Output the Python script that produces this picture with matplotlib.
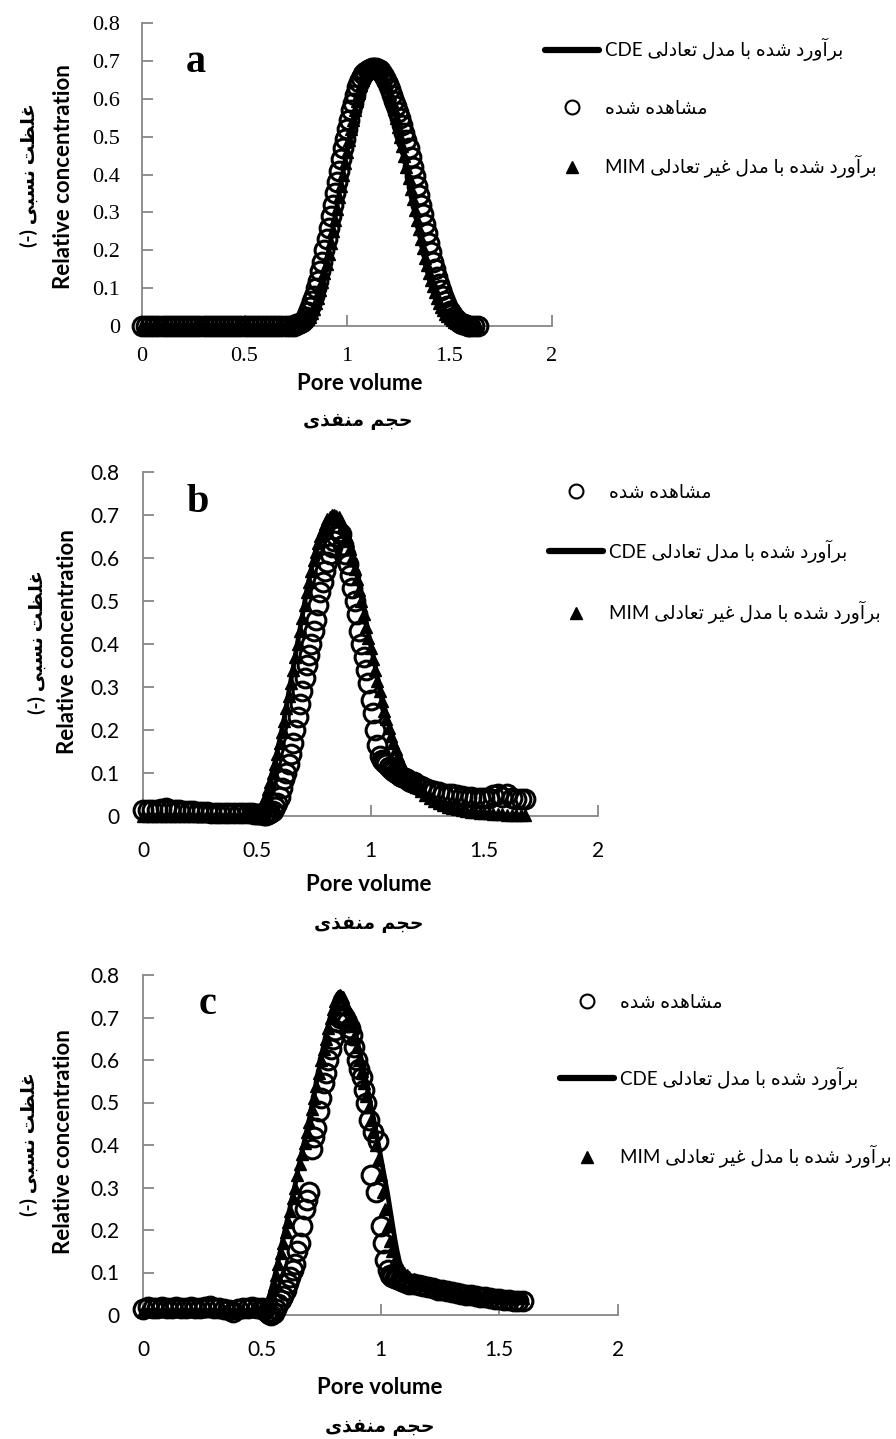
import matplotlib
matplotlib.use('Agg')
import matplotlib.pyplot as plt
from matplotlib.font_manager import FontProperties
from matplotlib.lines import Line2D

# ---------------- data ----------------
x_ticks = [0, 0.5, 1, 1.5, 2]
x_tick_labels = ['0', '0.5', '1', '1.5', '2']
y_ticks = [0, 0.1, 0.2, 0.3, 0.4, 0.5, 0.6, 0.7, 0.8]
y_tick_labels = ['0', '0.1', '0.2', '0.3', '0.4', '0.5', '0.6', '0.7', '0.8']
panel_letters = ['a', 'b', 'c']

# ---- panel a ----
pv_a = [0.00, 0.02, 0.04, 0.06, 0.08, 0.10, 0.12, 0.14, 0.16, 0.18, 0.20, 0.22, 0.24, 0.26, 0.28,
        0.30, 0.32, 0.34, 0.36, 0.38, 0.40, 0.42, 0.44, 0.46, 0.48, 0.50, 0.52, 0.54, 0.56, 0.58,
        0.60, 0.62, 0.64, 0.66, 0.68, 0.70, 0.72, 0.74,
        0.75, 0.76, 0.77, 0.78, 0.79, 0.80, 0.81, 0.82, 0.83, 0.84,
        0.85, 0.86, 0.87, 0.88, 0.89, 0.90, 0.91, 0.92, 0.93, 0.94,
        0.95, 0.96, 0.97, 0.98, 0.99, 1.00, 1.01, 1.02, 1.03, 1.04,
        1.05, 1.06, 1.07, 1.08, 1.09, 1.10, 1.11, 1.12, 1.13, 1.14,
        1.15, 1.16, 1.17, 1.18, 1.19, 1.20, 1.21, 1.22, 1.23, 1.24,
        1.25, 1.26, 1.27, 1.28, 1.29, 1.30, 1.31, 1.32, 1.33, 1.34,
        1.35, 1.36, 1.37, 1.38, 1.39, 1.40, 1.41, 1.42, 1.43, 1.44,
        1.45, 1.46, 1.47, 1.48, 1.49, 1.50, 1.51, 1.52, 1.53, 1.54,
        1.55, 1.56, 1.57, 1.58, 1.59, 1.60, 1.62, 1.64]
obs_a = [0, 0, 0, 0, 0, 0, 0, 0, 0, 0, 0, 0, 0, 0, 0,
         0, 0, 0, 0, 0, 0, 0, 0, 0, 0, 0, 0, 0, 0, 0,
         0, 0, 0, 0, 0, 0, 0, 0,
         0.004, 0.005, 0.008, 0.01, 0.017, 0.025, 0.037, 0.05, 0.065, 0.08,
         0.10, 0.12, 0.145, 0.17, 0.20, 0.23, 0.26, 0.29, 0.32, 0.35,
         0.38, 0.41, 0.44, 0.47, 0.495, 0.52, 0.545, 0.57, 0.59, 0.61,
         0.63, 0.645, 0.655, 0.665, 0.67, 0.675, 0.678, 0.68, 0.68, 0.68,
         0.678, 0.675, 0.668, 0.66, 0.65, 0.64, 0.625, 0.61, 0.595, 0.58,
         0.565, 0.55, 0.53, 0.51, 0.49, 0.47, 0.445, 0.42, 0.395, 0.37,
         0.345, 0.32, 0.295, 0.27, 0.245, 0.22, 0.195, 0.17, 0.15, 0.13,
         0.112, 0.095, 0.08, 0.065, 0.052, 0.04, 0.032, 0.025, 0.018, 0.012,
         0.009, 0.006, 0.004, 0.002, 0.001, 0, 0, 0]
mim_a = [0, 0, 0, 0, 0, 0, 0, 0, 0, 0, 0, 0, 0, 0, 0,
         0, 0, 0, 0, 0, 0, 0, 0, 0, 0, 0, 0, 0, 0, 0,
         0, 0, 0, 0, 0, 0, 0, 0,
         0.001, 0.002, 0.003, 0.005, 0.008, 0.012, 0.018, 0.025, 0.034, 0.045,
         0.06, 0.075, 0.095, 0.115, 0.14, 0.165, 0.19, 0.22, 0.25, 0.28,
         0.31, 0.34, 0.37, 0.40, 0.43, 0.46, 0.49, 0.52, 0.545, 0.57,
         0.595, 0.615, 0.635, 0.65, 0.662, 0.67, 0.676, 0.68, 0.681, 0.68,
         0.678, 0.675, 0.666, 0.655, 0.643, 0.63, 0.613, 0.595, 0.573, 0.55,
         0.525, 0.50, 0.475, 0.45, 0.42, 0.39, 0.362, 0.335, 0.307, 0.28,
         0.255, 0.23, 0.205, 0.18, 0.16, 0.14, 0.122, 0.105, 0.09, 0.075,
         0.062, 0.05, 0.041, 0.032, 0.026, 0.02, 0.015, 0.011, 0.008, 0.006,
         0.004, 0.003, 0.002, 0.001, 0.001, 0, 0, 0]
cde_a = [0, 0, 0, 0, 0, 0, 0, 0, 0, 0, 0, 0, 0, 0, 0,
         0, 0, 0, 0, 0, 0, 0, 0, 0, 0, 0, 0, 0, 0, 0,
         0, 0, 0, 0, 0, 0, 0, 0.001,
         0.002, 0.003, 0.005, 0.007, 0.011, 0.015, 0.022, 0.03, 0.04, 0.05,
         0.065, 0.08, 0.10, 0.12, 0.145, 0.17, 0.197, 0.225, 0.255, 0.285,
         0.315, 0.345, 0.375, 0.405, 0.435, 0.465, 0.493, 0.52, 0.545, 0.57,
         0.59, 0.61, 0.628, 0.645, 0.657, 0.665, 0.671, 0.675, 0.678, 0.68,
         0.678, 0.675, 0.668, 0.66, 0.648, 0.635, 0.618, 0.60, 0.578, 0.555,
         0.533, 0.51, 0.483, 0.455, 0.428, 0.40, 0.372, 0.345, 0.317, 0.29,
         0.265, 0.24, 0.215, 0.19, 0.17, 0.15, 0.13, 0.11, 0.095, 0.08,
         0.067, 0.055, 0.045, 0.036, 0.029, 0.022, 0.017, 0.013, 0.01, 0.007,
         0.005, 0.004, 0.003, 0.002, 0.001, 0.001, 0, 0]

# ---- panel b ----
pv_b = [0.00, 0.02, 0.04, 0.06, 0.08, 0.10, 0.12, 0.14, 0.16, 0.18, 0.20, 0.22, 0.24, 0.26, 0.28,
        0.30, 0.32, 0.34, 0.36, 0.38, 0.40, 0.42, 0.44, 0.46, 0.48,
        0.49, 0.50, 0.51, 0.52, 0.53, 0.54, 0.55, 0.56, 0.57, 0.58,
        0.59, 0.60, 0.61, 0.62, 0.63, 0.64, 0.65, 0.66, 0.67, 0.68,
        0.69, 0.70, 0.71, 0.72, 0.73, 0.74, 0.75, 0.76, 0.77, 0.78,
        0.79, 0.80, 0.81, 0.82, 0.83, 0.84, 0.85, 0.86, 0.87, 0.88,
        0.89, 0.90, 0.91, 0.92, 0.93, 0.94, 0.95, 0.96, 0.97, 0.98,
        0.99, 1.00, 1.01, 1.02, 1.03, 1.04, 1.05, 1.06, 1.07, 1.08,
        1.09, 1.10, 1.11, 1.12, 1.13, 1.14, 1.15, 1.16, 1.17, 1.18,
        1.19, 1.20,
        1.22, 1.24, 1.26, 1.28, 1.30, 1.32, 1.34, 1.36, 1.38, 1.40, 1.42, 1.44,
        1.46, 1.48, 1.50, 1.52, 1.54, 1.56, 1.58, 1.60, 1.62, 1.64, 1.66, 1.68]
obs_b = [0.015, 0.015, 0.015, 0.015, 0.016, 0.018, 0.015, 0.014, 0.013, 0.012, 0.012, 0.011, 0.010, 0.010, 0.009,
         0.008, 0.008, 0.008, 0.007, 0.007, 0.007, 0.007, 0.006, 0.006, 0.006,
         0.005, 0.005, 0.004, 0.004, 0.003, 0.003, 0.004, 0.006, 0.012, 0.02,
         0.03, 0.045, 0.065, 0.085, 0.10, 0.12, 0.145, 0.17, 0.20, 0.23,
         0.26, 0.29, 0.32, 0.35, 0.375, 0.40, 0.43, 0.455, 0.49, 0.52,
         0.545, 0.57, 0.59, 0.61, 0.625, 0.64, 0.65, 0.66, 0.655, 0.63,
         0.61, 0.585, 0.56, 0.53, 0.50, 0.47, 0.43, 0.40, 0.37, 0.34,
         0.31, 0.27, 0.24, 0.20, 0.165, 0.14, 0.13, 0.125, 0.12, 0.115,
         0.11, 0.105, 0.10, 0.097, 0.094, 0.09, 0.088, 0.085, 0.082, 0.08,
         0.078, 0.075,
         0.07, 0.065, 0.06, 0.058, 0.055, 0.052, 0.05, 0.05, 0.048, 0.046, 0.045, 0.044,
         0.043, 0.042, 0.042, 0.043, 0.048, 0.05, 0.045, 0.05, 0.042, 0.04, 0.04, 0.04]
mim_b = [0, 0, 0, 0, 0, 0, 0, 0, 0, 0, 0, 0, 0, 0, 0,
         0, 0, 0, 0, 0, 0, 0, 0, 0, 0,
         0.002, 0.005, 0.01, 0.02, 0.032, 0.045, 0.062, 0.08, 0.10, 0.12,
         0.145, 0.17, 0.195, 0.22, 0.25, 0.28, 0.31, 0.34, 0.37, 0.40,
         0.43, 0.46, 0.49, 0.52, 0.545, 0.57, 0.595, 0.615, 0.635, 0.65,
         0.665, 0.68, 0.69, 0.695, 0.70, 0.70, 0.698, 0.695, 0.685, 0.675,
         0.66, 0.64, 0.62, 0.60, 0.575, 0.55, 0.525, 0.50, 0.47, 0.44,
         0.415, 0.39, 0.365, 0.34, 0.315, 0.29, 0.268, 0.245, 0.225, 0.205,
         0.187, 0.17, 0.155, 0.14, 0.127, 0.115, 0.105, 0.095, 0.087, 0.08,
         0.073, 0.067,
         0.057, 0.048, 0.041, 0.035, 0.030, 0.026, 0.022, 0.019, 0.016, 0.014, 0.012, 0.010,
         0.009, 0.008, 0.007, 0.006, 0.005, 0.004, 0.004, 0.003, 0.003, 0.002, 0.002, 0.002]
cde_b = [0, 0, 0, 0, 0, 0, 0, 0, 0, 0, 0, 0, 0, 0, 0,
         0, 0, 0, 0, 0, 0, 0, 0, 0, 0.001,
         0.004, 0.008, 0.014, 0.025, 0.037, 0.05, 0.067, 0.085, 0.105, 0.125,
         0.15, 0.175, 0.20, 0.225, 0.255, 0.285, 0.315, 0.345, 0.375, 0.405,
         0.435, 0.465, 0.495, 0.525, 0.55, 0.575, 0.598, 0.62, 0.638, 0.655,
         0.668, 0.68, 0.69, 0.695, 0.698, 0.70, 0.698, 0.695, 0.686, 0.675,
         0.662, 0.645, 0.625, 0.605, 0.582, 0.56, 0.535, 0.51, 0.483, 0.455,
         0.428, 0.40, 0.375, 0.35, 0.325, 0.30, 0.278, 0.255, 0.235, 0.215,
         0.197, 0.18, 0.165, 0.15, 0.137, 0.125, 0.112, 0.10, 0.092, 0.085,
         0.077, 0.07,
         0.058, 0.048, 0.04, 0.034, 0.028, 0.024, 0.02, 0.017, 0.014, 0.012, 0.010, 0.008,
         0.007, 0.006, 0.005, 0.004, 0.004, 0.003, 0.003, 0.002, 0.002, 0.002, 0.001, 0.001]

# ---- panel c ----
pv_c = [0.00, 0.02, 0.04, 0.06, 0.08, 0.10, 0.12, 0.14, 0.16, 0.18, 0.20, 0.22, 0.24, 0.26, 0.28,
        0.30, 0.32, 0.34, 0.36, 0.38, 0.40, 0.42, 0.44, 0.46, 0.48, 0.50,
        0.51, 0.52, 0.53, 0.54, 0.55, 0.56, 0.57, 0.58, 0.59, 0.60,
        0.61, 0.62, 0.63, 0.64, 0.65, 0.66, 0.67, 0.68, 0.69, 0.70,
        0.71, 0.72, 0.73, 0.74, 0.75, 0.76, 0.77, 0.78, 0.79, 0.80,
        0.81, 0.82, 0.83, 0.84, 0.85, 0.86, 0.87, 0.88, 0.89, 0.90,
        0.91, 0.92, 0.93, 0.94, 0.95, 0.96, 0.97, 0.98, 0.99, 1.00,
        1.01, 1.02, 1.03, 1.04, 1.05, 1.06, 1.07, 1.08, 1.09, 1.10,
        1.11, 1.12,
        1.14, 1.16, 1.18, 1.20, 1.22, 1.24, 1.26, 1.28, 1.30, 1.32, 1.34, 1.36,
        1.38, 1.40, 1.42, 1.44, 1.46, 1.48, 1.50, 1.52, 1.54, 1.56, 1.58, 1.60]
obs_c = [0.015, 0.018, 0.016, 0.017, 0.018, 0.016, 0.017, 0.018, 0.017, 0.016, 0.018, 0.017, 0.016, 0.018, 0.022,
         0.017, 0.016, 0.015, 0.012, 0.008, 0.015, 0.017, 0.016, 0.018, 0.017, 0.016,
         0.012, 0.008, 0.003, 0.0, 0.005, 0.015, 0.025, 0.035, 0.045, 0.06,
         0.075, 0.09, 0.105, 0.12, 0.15, 0.17, 0.21, 0.25, 0.27, 0.29,
         0.39, 0.42, 0.44, 0.48, 0.51, 0.545, 0.57, 0.60, 0.625, 0.65,
         0.67, 0.69, 0.70, 0.705, 0.70, 0.69, 0.675, 0.66, 0.63, 0.60,
         0.58, 0.56, 0.53, 0.50, 0.46, 0.33, 0.43, 0.29, 0.41, 0.21,
         0.17, 0.13, 0.105, 0.095, 0.09, 0.088, 0.085, 0.083, 0.08, 0.078,
         0.076, 0.074,
         0.072, 0.07, 0.068, 0.066, 0.063, 0.06, 0.058, 0.056, 0.054, 0.052, 0.05, 0.048,
         0.046, 0.045, 0.043, 0.042, 0.04, 0.038, 0.037, 0.036, 0.035, 0.034, 0.033, 0.032]
mim_c = [0.01, 0.01, 0.01, 0.01, 0.01, 0.01, 0.01, 0.01, 0.01, 0.01, 0.01, 0.01, 0.01, 0.01, 0.01,
         0.01, 0.01, 0.01, 0.01, 0.01, 0.01, 0.01, 0.01, 0.01, 0.01, 0.01,
         0.012, 0.02, 0.03, 0.05, 0.07, 0.095, 0.12, 0.145, 0.17, 0.195,
         0.22, 0.245, 0.275, 0.30, 0.33, 0.355, 0.38, 0.405, 0.43, 0.455,
         0.485, 0.51, 0.54, 0.57, 0.60, 0.625, 0.65, 0.675, 0.70, 0.72,
         0.74, 0.75, 0.752, 0.748, 0.735, 0.72, 0.70, 0.68, 0.655, 0.63,
         0.60, 0.575, 0.545, 0.515, 0.49, 0.46, 0.43, 0.40, 0.365, 0.33,
         0.29, 0.25, 0.21, 0.175, 0.15, 0.13, 0.12, 0.11, 0.105, 0.10,
         0.095, 0.09,
         0.085, 0.08, 0.075, 0.07, 0.067, 0.064, 0.061, 0.058, 0.055, 0.053, 0.051, 0.049,
         0.047, 0.046, 0.045, 0.044, 0.043, 0.042, 0.042, 0.041, 0.041, 0.04, 0.04, 0.04]
cde_c = [0.01, 0.01, 0.01, 0.01, 0.01, 0.01, 0.01, 0.01, 0.01, 0.01, 0.01, 0.01, 0.01, 0.01, 0.01,
         0.01, 0.01, 0.01, 0.01, 0.01, 0.01, 0.01, 0.01, 0.01, 0.01, 0.01,
         0.015, 0.025, 0.04, 0.06, 0.08, 0.105, 0.13, 0.155, 0.18, 0.205,
         0.23, 0.255, 0.28, 0.305, 0.335, 0.36, 0.385, 0.41, 0.435, 0.46,
         0.49, 0.515, 0.545, 0.575, 0.605, 0.63, 0.655, 0.68, 0.705, 0.725,
         0.745, 0.755, 0.76, 0.755, 0.745, 0.73, 0.715, 0.695, 0.675, 0.65,
         0.625, 0.60, 0.575, 0.55, 0.52, 0.49, 0.465, 0.435, 0.405, 0.375,
         0.345, 0.315, 0.285, 0.25, 0.215, 0.18, 0.15, 0.125, 0.11, 0.10,
         0.093, 0.088,
         0.085, 0.08, 0.075, 0.07, 0.067, 0.064, 0.061, 0.058, 0.055, 0.053, 0.051, 0.049,
         0.047, 0.046, 0.045, 0.044, 0.043, 0.042, 0.042, 0.041, 0.041, 0.04, 0.04, 0.04]

# text
cde_fa = 'برآورد شده با مدل تعادلی'
obs_fa = 'مشاهده شده'
mim_fa = 'برآورد شده با مدل غیر تعادلی'
ylabel_fa = 'غلظت نسبی'
xlabel_fa = 'حجم منفذی'
ylabel_en = 'Relative concentration'
xlabel_en = 'Pore volume'

# ---------------- minimal Persian shaping (presentation forms + visual order) ----------------
FORMS = {
    'ا': (0xFE8D, 0xFE8E), 'آ': (0xFE81, 0xFE82),
    'ب': (0xFE8F, 0xFE90, 0xFE91, 0xFE92), 'ت': (0xFE95, 0xFE96, 0xFE97, 0xFE98),
    'ج': (0xFE9D, 0xFE9E, 0xFE9F, 0xFEA0), 'ح': (0xFEA1, 0xFEA2, 0xFEA3, 0xFEA4),
    'د': (0xFEA9, 0xFEAA), 'ذ': (0xFEAB, 0xFEAC), 'ر': (0xFEAD, 0xFEAE),
    'س': (0xFEB1, 0xFEB2, 0xFEB3, 0xFEB4), 'ش': (0xFEB5, 0xFEB6, 0xFEB7, 0xFEB8),
    'ظ': (0xFEC5, 0xFEC6, 0xFEC7, 0xFEC8), 'ع': (0xFEC9, 0xFECA, 0xFECB, 0xFECC),
    'غ': (0xFECD, 0xFECE, 0xFECF, 0xFED0), 'ف': (0xFED1, 0xFED2, 0xFED3, 0xFED4),
    'ل': (0xFEDD, 0xFEDE, 0xFEDF, 0xFEE0), 'م': (0xFEE1, 0xFEE2, 0xFEE3, 0xFEE4),
    'ن': (0xFEE5, 0xFEE6, 0xFEE7, 0xFEE8), 'ه': (0xFEE9, 0xFEEA, 0xFEEB, 0xFEEC),
    'و': (0xFEED, 0xFEEE),
    '\u06cc': (0xFEEF, 0xFEF0, 0xFEF3, 0xFEF4), '\u064a': (0xFEEF, 0xFEF0, 0xFEF3, 0xFEF4),
}


def shape(text):
    out = []
    n = len(text)
    for i, ch in enumerate(text):
        if ch not in FORMS:
            out.append(ch)
            continue
        f = FORMS[ch]
        prev = text[i - 1] if i > 0 else None
        nxt = text[i + 1] if i < n - 1 else None
        jp = prev is not None and prev in FORMS and len(FORMS[prev]) == 4
        jn = nxt is not None and nxt in FORMS and len(f) == 4
        if jp and jn:
            g = f[3]
        elif jp:
            g = f[1]
        elif jn:
            g = f[2]
        else:
            g = f[0]
        out.append(chr(g))
    return ''.join(reversed(out))


W, H = 896, 1439
fig = plt.figure(figsize=(W / 100, H / 100), dpi=100)


def fx(px):
    return px / W


def fy(py):
    return 1 - py / H


GRAY = '#878787'
FA = ['Lato', 'DejaVu Sans']

panels = [
    dict(pv=pv_a, obs=obs_a, mim=mim_a, cde=cde_a, box=(142, 552, 23, 326), serif=True,
         letter=(196, 62), order=['cde', 'obs', 'mim'], leg=(545, 38), legsp=2.05,
         xen=(360, 383), xfa=(358, 421), yen=(64, 177), yfa=(29, 175)),
    dict(pv=pv_b, obs=obs_b, mim=mim_b, cde=cde_b, box=(143, 598, 472, 816), serif=False,
         letter=(198, 502), order=['obs', 'cde', 'mim'], leg=(549, 484), legsp=2.05,
         xen=(369, 885), xfa=(369, 924), yen=(67, 642), yfa=(37, 642)),
    dict(pv=pv_c, obs=obs_c, mim=mim_c, cde=cde_c, box=(143, 618, 975, 1315), serif=False,
         letter=(208, 1005), order=['obs', 'cde', 'mim'], leg=(560, 994), legsp=2.95,
         xen=(380, 1387), xfa=(380, 1426), yen=(63, 1142), yfa=(29, 1144)),
]

leg_handles = {
    'cde': Line2D([], [], color='black', lw=4.5, solid_capstyle='round'),
    'obs': Line2D([], [], ls='none', marker='o', ms=10, mfc='none', mec='black', mew=1.5),
    'mim': Line2D([], [], ls='none', marker='^', ms=9, color='black'),
}

for k, p in enumerate(panels):
    l, r, t, b = p['box']
    ax = fig.add_axes([fx(l), fy(b), (r - l) / W, (b - t) / H])
    ax.plot(p['pv'], p['cde'], color='black', lw=3.5, zorder=2, clip_on=False,
            solid_capstyle='round')
    ax.plot(p['pv'], p['obs'], ls='none', marker='o', ms=13.5, mfc='none', mec='black',
            mew=2.2, zorder=3, clip_on=False)
    ax.plot(p['pv'], p['mim'], ls='none', marker='^', ms=9, color='black', zorder=4,
            clip_on=False)
    ax.set_xlim(0, 2)
    ax.set_ylim(0, 0.8)
    ax.set_xticks(x_ticks)
    ax.set_yticks(y_ticks)
    if p['serif']:
        tfont = dict(family='Liberation Serif', size=16)
        ypad, xpad = 16, 15
    else:
        tfont = dict(family='Lato', size=15)
        ypad, xpad = 17, 18
    ax.set_xticklabels(x_tick_labels, fontdict=tfont)
    ax.set_yticklabels(y_tick_labels, fontdict=tfont)
    ax.tick_params(axis='y', direction='in', length=8, width=1.3, color=GRAY, pad=ypad)
    ax.tick_params(axis='x', direction='in', length=8, width=1.3, color=GRAY, pad=xpad)
    for s in ['top', 'right']:
        ax.spines[s].set_visible(False)
    for s in ['left', 'bottom']:
        ax.spines[s].set_color(GRAY)
        ax.spines[s].set_linewidth(1.3)
    ax.patch.set_alpha(0)

    # panel letter
    fig.text(fx(p['letter'][0]), fy(p['letter'][1]), panel_letters[k], family='Liberation Serif',
             weight='bold', size=29, ha='center', va='center')
    # axis labels
    fig.text(fx(p['xen'][0]), fy(p['xen'][1]), xlabel_en, family='Lato', weight='bold', size=16,
             ha='center', va='center')
    fig.text(fx(p['xfa'][0]), fy(p['xfa'][1]), shape(xlabel_fa), family='DejaVu Sans',
             weight='bold', size=13.5, ha='center', va='center')
    fig.text(fx(p['yen'][0]), fy(p['yen'][1]), ylabel_en, family='Lato', weight='bold', size=16,
             ha='center', va='center', rotation=90)
    fig.text(fx(p['yfa'][0]), fy(p['yfa'][1]), '(-) ' + shape(ylabel_fa), family=FA,
             weight='bold', size=14, ha='center', va='center', rotation=90)

    labels = {'cde': 'CDE ' + shape(cde_fa), 'obs': shape(obs_fa), 'mim': 'MIM ' + shape(mim_fa)}
    ax.legend([leg_handles[o] for o in p['order']], [labels[o] for o in p['order']],
              loc='upper left', bbox_to_anchor=(fx(p['leg'][0]), fy(p['leg'][1])),
              bbox_transform=fig.transFigure, frameon=False, borderpad=0, borderaxespad=0,
              handlelength=2.9, handletextpad=0.3, labelspacing=p['legsp'],
              prop=FontProperties(family=FA, size=13.5))

fig.savefig('out.png', dpi=100)
